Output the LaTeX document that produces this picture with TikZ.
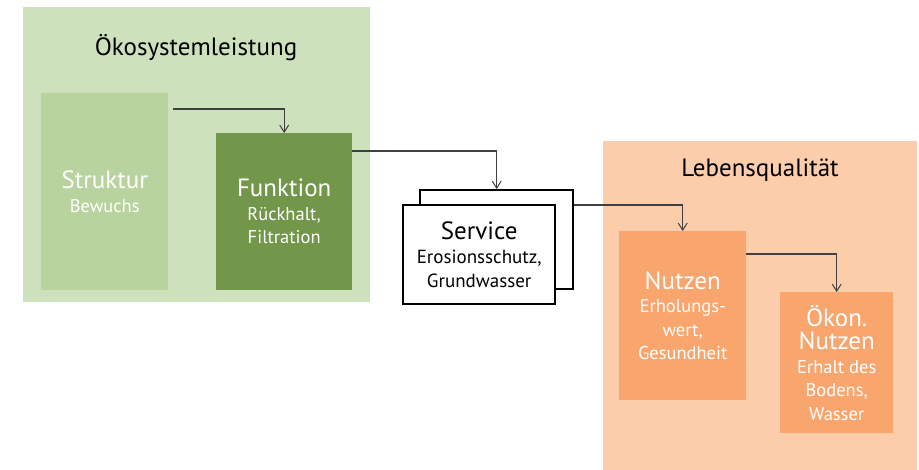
\documentclass[tikz,border=0pt]{standalone}
\usepackage{fontspec}
\setmainfont{PT Sans}
\usetikzlibrary{arrows.meta}

\definecolor{oekoback}{HTML}{CDE1BC}
\definecolor{strukturfill}{HTML}{B8D39D}
\definecolor{funktionfill}{HTML}{72964A}
\definecolor{lebenback}{HTML}{FCCDAA}
\definecolor{nutzenfill}{HTML}{F8A66E}

\newcommand{\bigword}{\fontsize{25}{30}\selectfont}

\begin{document}
\begin{tikzpicture}[x=1pt,y=-1pt,
    area/.style={anchor=north west,inner sep=0pt},
    box/.style={anchor=north west,inner sep=0pt,align=center,text=white,
      font=\fontsize{18.5}{23.5}\selectfont},
    servicebox/.style={anchor=north west,inner sep=0pt,align=center,fill=white,
      draw=black,line width=2.4pt,font=\fontsize{19}{24}\selectfont},
    conn/.style={draw=black!75,line width=1.1pt,-{Straight Barb[length=7pt,width=9pt,line width=1pt]}}]

    \useasboundingbox (0,0) rectangle (919,470);

    % background areas
    \node[area,fill=oekoback,minimum width=347pt,minimum height=295pt] (oeko) at (23,7) {};
    \node[area,fill=lebenback,minimum width=314pt,minimum height=329pt] (leben) at (603,141) {};
    \node[font=\bigword] (oekotitle) at (196,48) {Ökosystemleistung};
    \node[font=\bigword] (lebentitle) at (760,170) {Lebensqualität};

    % green boxes
    \node[box,fill=strukturfill,minimum width=127pt,minimum height=197pt] (struktur) at (41,93)
      {{\bigword Struktur}\\Bewuchs};
    \node[box,fill=funktionfill,minimum width=136pt,minimum height=157pt] (funktion) at (216,133)
      {{\bigword Funktion}\\Rückhalt,\\Filtration};

    % service boxes
    \node[servicebox,minimum width=153pt,minimum height=99pt] (serviceback) at (419,189) {};
    \node[servicebox,minimum width=152pt,minimum height=99pt] (service) at (402,204)
      {{\bigword Service}\\Erosionsschutz,\\Grundwasser};

    % orange boxes
    \node[box,fill=nutzenfill,minimum width=127pt,minimum height=169pt] (nutzen) at (619,231)
      {{\bigword Nutzen}\\Erholungs-\\wert,\\Gesundheit};
    \node[box,fill=nutzenfill,minimum width=113pt,minimum height=141pt] (oekon) at (780,292)
      {{\bigword Ökon.}\\{\bigword Nutzen}\\Erhalt des\\Bodens,\\Wasser};

    % connectors
    \draw[conn] ([xshift=5pt,yshift=-16pt]struktur.north east) -| (funktion.north);
    \draw[conn] ([yshift=-18pt]funktion.north east) -| (serviceback.north);
    \draw[conn] ([yshift=-16pt]serviceback.north east) -| (nutzen.north);
    \draw[conn] ([yshift=-23pt]nutzen.north east) -| (oekon.north);

\end{tikzpicture}
\end{document}
